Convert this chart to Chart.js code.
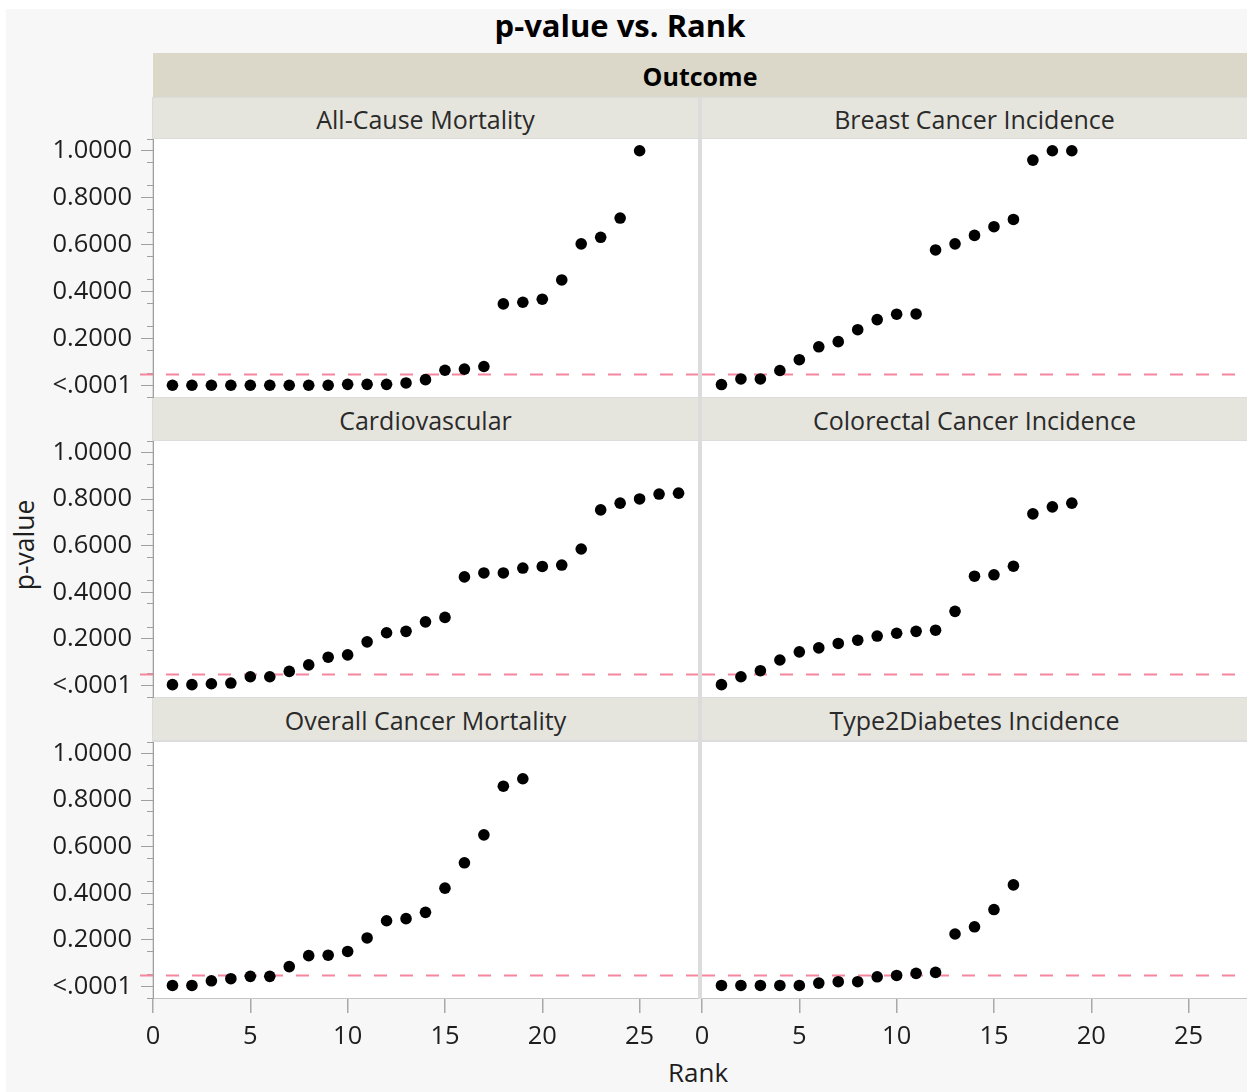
<!DOCTYPE html>
<html><head><meta charset="utf-8">
<script src="https://cdn.jsdelivr.net/npm/chart.js@4.4.0/dist/chart.umd.min.js"></script>
<style>
html,body{margin:0;padding:0;background:#fff;}
body{width:1247px;height:1092px;position:relative;overflow:hidden;font-family:"Open Sans","Noto Sans",sans-serif;color:#1e1e1e;}
.abs{position:absolute;}
#bg{left:6px;top:9px;width:1241px;height:1083px;background:#f7f7f7;}
#title{left:0;width:1240px;top:5px;height:40px;line-height:40px;text-align:center;font-weight:bold;font-size:31px;color:#000;}
#frame{left:152px;top:97px;width:1095px;height:902px;background:#dcdcdc;}
#outcome{left:153px;top:53px;width:1094px;height:44px;line-height:46px;background:#dbd8ca;font-weight:bold;font-size:25px;text-align:center;color:#000;}
.hdr{background:#e6e5dd;font-size:25px;text-align:center;color:#2a2a2a;white-space:nowrap;}
#ylab{left:24px;top:545px;font-size:26.5px;transform:translate(-50%,-50%) rotate(-90deg);white-space:nowrap;}
#xlab{left:698px;top:1072px;font-size:26px;transform:translate(-50%,-50%);white-space:nowrap;}
canvas{position:absolute;}
</style>
</head>
<body>
<div id="bg" class="abs"></div>
<div id="title" class="abs">p-value vs. Rank</div>
<div id="frame" class="abs"></div>
<div id="outcome" class="abs">Outcome</div>
<div id="ylab" class="abs">p-value</div>
<div id="xlab" class="abs">Rank</div>
<script>
// ---- data ----
const outcomes = ["All-Cause Mortality","Breast Cancer Incidence","Cardiovascular","Colorectal Cancer Incidence","Overall Cancer Mortality","Type2Diabetes Incidence"];
const allCauseMortality = [0,0,0,0,0,0,0,0,0,0.004,0.004,0.004,0.010,0.024,0.064,0.069,0.080,0.347,0.354,0.367,0.449,0.603,0.631,0.713,1.000];
const breastCancerIncidence = [0.003,0.027,0.027,0.063,0.109,0.164,0.186,0.237,0.280,0.303,0.304,0.577,0.603,0.639,0.676,0.707,0.960,1.000,1.000];
const cardiovascular = [0.003,0.003,0.007,0.010,0.037,0.037,0.060,0.088,0.121,0.131,0.187,0.226,0.232,0.273,0.292,0.466,0.483,0.483,0.504,0.511,0.517,0.586,0.754,0.783,0.801,0.822,0.826];
const colorectalCancerIncidence = [0.003,0.037,0.063,0.109,0.144,0.161,0.180,0.194,0.212,0.224,0.232,0.237,0.318,0.469,0.475,0.512,0.737,0.767,0.783];
const overallCancerMortality = [0.004,0.004,0.024,0.033,0.043,0.043,0.085,0.132,0.134,0.150,0.208,0.282,0.291,0.318,0.422,0.531,0.651,0.860,0.892];
const type2DiabetesIncidence = [0.004,0.004,0.004,0.004,0.004,0.014,0.020,0.020,0.041,0.047,0.056,0.060,0.225,0.256,0.330,0.436];
const seriesList = [allCauseMortality,breastCancerIncidence,cardiovascular,colorectalCancerIncidence,overallCancerMortality,type2DiabetesIncidence];
const xTickStep = 5, yMajorStep = 0.2, yMinorStep = 0.1;
const RANK_MIN = 0, RANK_MAX = 28, P_MIN = -0.05, P_MAX = 1.05, ALPHA = 0.05;

// ---- layout ----
const COLS = [{x:153,w:545},{x:702,w:545}];
const ROWS = [{hTop:98,hH:40,pTop:139,pH:258},{hTop:398,hH:42,pTop:441,pH:256},{hTop:698,hH:42,pTop:742,pH:256}];
const PADV = 16, XAXIS_H = 60, LEFT_W = 153, RPAD = 24;
const FONT = "'Open Sans','Noto Sans',sans-serif";
const TICK_FONT = {family:FONT, size:25.5};

function noPad(s){ s.paddingTop = 0; s.paddingBottom = 0; s.paddingLeft = 0; s.paddingRight = 0; }

const decor = {
  id:'decor',
  beforeDraw(chart){
    const {ctx, chartArea:a} = chart;
    ctx.save(); ctx.fillStyle='#ffffff'; ctx.fillRect(a.left,a.top,a.right-a.left,a.bottom-a.top); ctx.restore();
  },
  beforeDatasetsDraw(chart, args, opts){
    const {ctx, chartArea:a, scales} = chart;
    const py = Math.round(scales.y.getPixelForValue(ALPHA))+0.5;
    ctx.save(); ctx.strokeStyle='#f5869d'; ctx.lineWidth=2; ctx.setLineDash([13,13]);
    ctx.beginPath(); ctx.moveTo(a.left-(opts.ext||0), py); ctx.lineTo(a.right, py); ctx.stroke(); ctx.restore();
  }
};

outcomes.forEach((name, i) => {
  const row = Math.floor(i/2), col = i%2;
  const R = ROWS[row], C = COLS[col];
  const isLeft = col===0, isBottom = row===2;
  // header
  const h = document.createElement('div');
  h.className='abs hdr';
  Object.assign(h.style,{left:C.x+'px',top:R.hTop+'px',width:C.w+'px',height:R.hH+'px',lineHeight:(R.hH+2)+'px'});
  h.textContent = name;
  document.body.appendChild(h);
  // canvas
  const cv = document.createElement('canvas');
  const padL = isLeft ? 0 : RPAD;
  const cLeft = isLeft ? 0 : C.x - RPAD;
  const cW = isLeft ? C.x + C.w : C.w + RPAD;
  const cTop = R.pTop - PADV;
  const cH = PADV + R.pH + (isBottom ? XAXIS_H : PADV);
  cv.width = cW; cv.height = cH;
  Object.assign(cv.style,{left:cLeft+'px',top:cTop+'px',width:cW+'px',height:cH+'px'});
  document.body.appendChild(cv);

  const scales = {
    x: {
      type:'linear', min:RANK_MIN, max:RANK_MAX, display:isBottom, position:'bottom',
      ticks:{stepSize:xTickStep, includeBounds:false, maxRotation:0, autoSkip:false, padding:8,
             font:TICK_FONT, color:'#1e1e1e'},
      grid:{drawOnChartArea:false, tickLength:15, color:'#a8a8a8', lineWidth:1.5},
      border:{display:true, color:'#c4c4c4'}
    },
    y: {
      type:'linear', min:P_MIN, max:P_MAX, position:'left', weight:1, display:isLeft,
      ticks:{stepSize:yMajorStep, includeBounds:false, padding:9,
             font:TICK_FONT, color:'#1e1e1e',
             callback:(v)=> (Math.abs(v)<1e-9 ? '<.0001' : Number(v).toFixed(4))},
      grid:{drawOnChartArea:false, tickLength:12, color:'#a0a0a0'},
      border:{display:true, color:'#a0a0a0'}
    }
  };
  if (isBottom) scales.x.afterFit = (s)=>{ s.height = XAXIS_H; noPad(s); };
  if (isLeft) {
    scales.y.afterFit = (s)=>{ s.width = LEFT_W; noPad(s); };
    scales.yMinor = {
      type:'linear', min:P_MIN, max:P_MAX, position:'left', weight:0,
      ticks:{stepSize:yMinorStep, includeBounds:false, display:false},
      grid:{drawOnChartArea:false, tickLength:6, color:'#a0a0a0'},
      border:{display:true, color:'#a0a0a0'},
      afterFit(s){ s.width = 0; noPad(s); }
    };
  }

  new Chart(cv, {
    type:'scatter',
    data:{datasets:[{
      data: seriesList[i].map((p, k) => ({x:k+1, y:p})),
      backgroundColor:'#000', borderWidth:0, pointRadius:5.8, pointHoverRadius:5.8
    }]},
    options:{
      responsive:false, animation:false, events:[],
      layout:{autoPadding:false, padding:{left:padL, right:0, top:PADV, bottom:isBottom?0:PADV}},
      plugins:{legend:{display:false}, tooltip:{enabled:false}, decor:{ext: isLeft?13:0}},
      scales
    },
    plugins:[decor]
  });
});
</script>
</body></html>
